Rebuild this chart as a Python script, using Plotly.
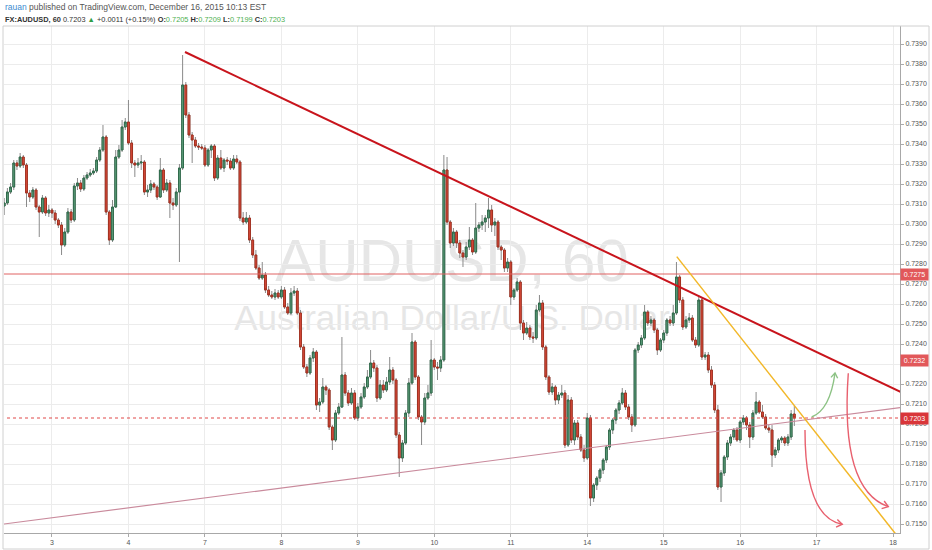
import plotly.graph_objects as go

# ---------------- data (hourly AUDUSD bars, Dec 3 - Dec 16 2015) ----------------
opens = [
    0.73090, 0.73105, 0.73160, 0.73185, 0.73305, 0.73290, 0.73335, 0.73295, 0.73155, 0.73135,
    0.73170, 0.73085, 0.73060, 0.73130, 0.73055, 0.73070, 0.73055, 0.73020, 0.72995, 0.72895,
    0.72960, 0.73060, 0.73020, 0.73190, 0.73205, 0.73175, 0.73230, 0.73245, 0.73255, 0.73265,
    0.73320, 0.73370, 0.73435, 0.73060, 0.72920, 0.73085, 0.73335, 0.73370, 0.73485, 0.73510,
    0.73405, 0.73305, 0.73295, 0.73305, 0.73310, 0.73160, 0.73170, 0.73200, 0.73185, 0.73135,
    0.73270, 0.73170, 0.73205, 0.73105, 0.73095, 0.73160, 0.73280, 0.73695, 0.73545, 0.73445,
    0.73420, 0.73390, 0.73385, 0.73380, 0.73295, 0.73370, 0.73390, 0.73230, 0.73330, 0.73280,
    0.73320, 0.73315, 0.73280, 0.73325, 0.73310, 0.73030, 0.73010, 0.73030, 0.72920, 0.72845,
    0.72780, 0.72730, 0.72745, 0.72670, 0.72645, 0.72635, 0.72655, 0.72635, 0.72670, 0.72585,
    0.72555, 0.72655, 0.72665, 0.72555, 0.72385, 0.72285, 0.72255, 0.72330, 0.72360, 0.72095,
    0.72110, 0.72185, 0.72170, 0.71985, 0.71920, 0.72055, 0.72085, 0.72245, 0.72155, 0.72105,
    0.72155, 0.72030, 0.72085, 0.72135, 0.72185, 0.72235, 0.72305, 0.72280, 0.72130, 0.72195,
    0.72170, 0.72210, 0.72270, 0.72220, 0.71945, 0.71830, 0.71905, 0.72055, 0.72205, 0.72410,
    0.72235, 0.72035, 0.72010, 0.72130, 0.72155, 0.72320, 0.72285, 0.72280, 0.72320, 0.73270,
    0.73010, 0.72905, 0.72960, 0.72905, 0.72855, 0.72835, 0.72885, 0.72920, 0.72860, 0.72980,
    0.72995, 0.73010, 0.73030, 0.73070, 0.72995, 0.73010, 0.72885, 0.72870, 0.72780, 0.72810,
    0.72635, 0.72670, 0.72710, 0.72505, 0.72455, 0.72480, 0.72435, 0.72430, 0.72570, 0.72605,
    0.72385, 0.72235, 0.72160, 0.72185, 0.72120, 0.72145, 0.72155, 0.71895, 0.72120, 0.71920,
    0.72005, 0.71935, 0.71870, 0.71830, 0.72030, 0.71630, 0.71695, 0.71730, 0.71770, 0.71820,
    0.71885, 0.71970, 0.72020, 0.72070, 0.72105, 0.72155, 0.72085, 0.72035, 0.71995, 0.72370,
    0.72395, 0.72430, 0.72560, 0.72505, 0.72520, 0.72470, 0.72370, 0.72420, 0.72455, 0.72520,
    0.72505, 0.72555, 0.72735, 0.72620, 0.72485, 0.72520, 0.72530, 0.72420, 0.72395, 0.72620,
    0.72335, 0.72345, 0.72270, 0.72195, 0.72070, 0.71685, 0.71755, 0.71835, 0.71905, 0.71935,
    0.71970, 0.71920, 0.72010, 0.72030, 0.71995, 0.71935, 0.72055, 0.72110, 0.72060, 0.72035,
    0.71980, 0.71970, 0.71845, 0.71870, 0.71920, 0.71930, 0.71905, 0.71935, 0.72050,
]
highs = [
    0.73130, 0.73180, 0.73205, 0.73320, 0.73320, 0.73355, 0.73345, 0.73305, 0.73170, 0.73185,
    0.73180, 0.73095, 0.73145, 0.73140, 0.73095, 0.73080, 0.73070, 0.73030, 0.73010, 0.72980,
    0.73080, 0.73075, 0.73205, 0.73230, 0.73220, 0.73245, 0.73260, 0.73275, 0.73280, 0.73335,
    0.73385, 0.73495, 0.73445, 0.73070, 0.73120, 0.73370, 0.73395, 0.73520, 0.73530, 0.73620,
    0.73420, 0.73320, 0.73330, 0.73345, 0.73320, 0.73195, 0.73220, 0.73210, 0.73195, 0.73330,
    0.73280, 0.73225, 0.73220, 0.73130, 0.73180, 0.73300, 0.73845, 0.73710, 0.73560, 0.73460,
    0.73435, 0.73405, 0.73400, 0.73395, 0.73380, 0.73400, 0.73400, 0.73345, 0.73370, 0.73330,
    0.73335, 0.73330, 0.73345, 0.73345, 0.73320, 0.73060, 0.73060, 0.73045, 0.72935, 0.72870,
    0.72795, 0.72810, 0.72760, 0.72690, 0.72665, 0.72675, 0.72670, 0.72690, 0.72685, 0.72605,
    0.72680, 0.72690, 0.72680, 0.72570, 0.72400, 0.72300, 0.72345, 0.72380, 0.72370, 0.72130,
    0.72230, 0.72195, 0.72180, 0.71995, 0.72070, 0.72105, 0.72435, 0.72260, 0.72170, 0.72180,
    0.72170, 0.72105, 0.72155, 0.72205, 0.72270, 0.72370, 0.72320, 0.72295, 0.72220, 0.72220,
    0.72235, 0.72335, 0.72285, 0.72230, 0.71960, 0.71920, 0.72070, 0.72230, 0.72455, 0.72420,
    0.72245, 0.72045, 0.72155, 0.72195, 0.72420, 0.72330, 0.72310, 0.72340, 0.73345, 0.73335,
    0.73020, 0.72980, 0.72970, 0.72920, 0.72870, 0.72910, 0.72985, 0.72930, 0.73105, 0.73010,
    0.73045, 0.73045, 0.73130, 0.73095, 0.73030, 0.73020, 0.72895, 0.72880, 0.72830, 0.72820,
    0.72680, 0.72730, 0.72720, 0.72520, 0.72510, 0.72495, 0.72460, 0.72595, 0.72645, 0.72620,
    0.72395, 0.72245, 0.72205, 0.72195, 0.72160, 0.72195, 0.72170, 0.72145, 0.72135, 0.72020,
    0.72020, 0.71950, 0.71895, 0.72055, 0.72045, 0.71705, 0.71740, 0.71780, 0.71830, 0.71895,
    0.71980, 0.72030, 0.72080, 0.72120, 0.72180, 0.72170, 0.72100, 0.72050, 0.72380, 0.72410,
    0.72445, 0.72595, 0.72570, 0.72540, 0.72530, 0.72480, 0.72430, 0.72470, 0.72530, 0.72540,
    0.72595, 0.72810, 0.72745, 0.72635, 0.72540, 0.72555, 0.72545, 0.72435, 0.72645, 0.72635,
    0.72360, 0.72360, 0.72290, 0.72210, 0.72095, 0.71770, 0.71845, 0.71920, 0.71950, 0.71980,
    0.71985, 0.72020, 0.72045, 0.72040, 0.72010, 0.72070, 0.72160, 0.72120, 0.72095, 0.72050,
    0.71995, 0.71995, 0.71885, 0.71930, 0.71940, 0.71940, 0.71950, 0.72070, 0.72090,
]
lows = [
    0.73045, 0.73095, 0.73150, 0.73170, 0.73270, 0.73280, 0.73280, 0.73085, 0.73110, 0.73125,
    0.73070, 0.72935, 0.73050, 0.73040, 0.73035, 0.73030, 0.73000, 0.72980, 0.72845, 0.72885,
    0.72950, 0.73005, 0.73010, 0.73170, 0.73160, 0.73165, 0.73220, 0.73235, 0.73245, 0.73255,
    0.73310, 0.73360, 0.73045, 0.72895, 0.72910, 0.73080, 0.73325, 0.73360, 0.73470, 0.73395,
    0.73280, 0.73235, 0.73280, 0.73270, 0.73145, 0.73135, 0.73155, 0.73170, 0.73120, 0.73130,
    0.73155, 0.73160, 0.73030, 0.73070, 0.73085, 0.72810, 0.73270, 0.73530, 0.73430, 0.73305,
    0.73380, 0.73370, 0.73370, 0.73285, 0.73285, 0.73330, 0.73215, 0.73220, 0.73270, 0.73260,
    0.73295, 0.73270, 0.73270, 0.73300, 0.73015, 0.72995, 0.73000, 0.72905, 0.72830, 0.72770,
    0.72720, 0.72720, 0.72655, 0.72635, 0.72625, 0.72620, 0.72625, 0.72625, 0.72575, 0.72545,
    0.72545, 0.72640, 0.72545, 0.72370, 0.72275, 0.72235, 0.72245, 0.72310, 0.72070, 0.72060,
    0.72100, 0.72145, 0.71970, 0.71870, 0.71910, 0.72045, 0.72080, 0.72140, 0.72090, 0.72095,
    0.72020, 0.72015, 0.72075, 0.72125, 0.72175, 0.72225, 0.72260, 0.72110, 0.72120, 0.72155,
    0.72160, 0.72195, 0.72200, 0.71930, 0.71735, 0.71810, 0.71895, 0.72035, 0.72195, 0.72220,
    0.72020, 0.71895, 0.71995, 0.72120, 0.72140, 0.72270, 0.72220, 0.72260, 0.72310, 0.72995,
    0.72880, 0.72890, 0.72880, 0.72830, 0.72785, 0.72820, 0.72870, 0.72845, 0.72850, 0.72960,
    0.72970, 0.72960, 0.72980, 0.72960, 0.72940, 0.72870, 0.72820, 0.72760, 0.72760, 0.72595,
    0.72620, 0.72660, 0.72470, 0.72420, 0.72445, 0.72420, 0.72405, 0.72420, 0.72560, 0.72370,
    0.72220, 0.72145, 0.72145, 0.72095, 0.72100, 0.72130, 0.71880, 0.71885, 0.71905, 0.71895,
    0.71920, 0.71860, 0.71810, 0.71820, 0.71590, 0.71610, 0.71670, 0.71710, 0.71750, 0.71805,
    0.71870, 0.71950, 0.72000, 0.72050, 0.72095, 0.72070, 0.72020, 0.71960, 0.71985, 0.72355,
    0.72380, 0.72420, 0.72490, 0.72490, 0.72455, 0.72345, 0.72360, 0.72405, 0.72440, 0.72490,
    0.72490, 0.72545, 0.72605, 0.72470, 0.72475, 0.72505, 0.72410, 0.72380, 0.72385, 0.72320,
    0.72320, 0.72255, 0.72180, 0.72055, 0.71670, 0.71610, 0.71740, 0.71820, 0.71890, 0.71920,
    0.71910, 0.71905, 0.71995, 0.71970, 0.71880, 0.71920, 0.72045, 0.72050, 0.72025, 0.71970,
    0.71955, 0.71785, 0.71830, 0.71855, 0.71905, 0.71890, 0.71890, 0.71920, 0.71990,
]
closes = [
    0.73105, 0.73160, 0.73185, 0.73305, 0.73290, 0.73335, 0.73295, 0.73155, 0.73135, 0.73170,
    0.73085, 0.73060, 0.73130, 0.73055, 0.73070, 0.73055, 0.73020, 0.72995, 0.72895, 0.72960,
    0.73060, 0.73020, 0.73190, 0.73205, 0.73175, 0.73230, 0.73245, 0.73255, 0.73265, 0.73320,
    0.73370, 0.73435, 0.73060, 0.72920, 0.73085, 0.73335, 0.73370, 0.73485, 0.73510, 0.73405,
    0.73305, 0.73295, 0.73305, 0.73310, 0.73160, 0.73170, 0.73200, 0.73185, 0.73135, 0.73270,
    0.73170, 0.73205, 0.73105, 0.73095, 0.73160, 0.73280, 0.73695, 0.73545, 0.73445, 0.73420,
    0.73390, 0.73385, 0.73380, 0.73295, 0.73370, 0.73390, 0.73230, 0.73330, 0.73280, 0.73320,
    0.73315, 0.73280, 0.73325, 0.73310, 0.73030, 0.73010, 0.73030, 0.72920, 0.72845, 0.72780,
    0.72730, 0.72745, 0.72670, 0.72645, 0.72635, 0.72655, 0.72635, 0.72670, 0.72585, 0.72555,
    0.72655, 0.72665, 0.72555, 0.72385, 0.72285, 0.72255, 0.72330, 0.72360, 0.72095, 0.72110,
    0.72185, 0.72170, 0.71985, 0.71920, 0.72055, 0.72085, 0.72245, 0.72155, 0.72105, 0.72155,
    0.72030, 0.72085, 0.72135, 0.72185, 0.72235, 0.72305, 0.72280, 0.72130, 0.72195, 0.72170,
    0.72210, 0.72270, 0.72220, 0.71945, 0.71830, 0.71905, 0.72055, 0.72205, 0.72410, 0.72235,
    0.72035, 0.72010, 0.72130, 0.72155, 0.72320, 0.72285, 0.72280, 0.72320, 0.73270, 0.73010,
    0.72905, 0.72960, 0.72905, 0.72855, 0.72835, 0.72885, 0.72920, 0.72860, 0.72980, 0.72995,
    0.73010, 0.73030, 0.73070, 0.72995, 0.73010, 0.72885, 0.72870, 0.72780, 0.72810, 0.72635,
    0.72670, 0.72710, 0.72505, 0.72455, 0.72480, 0.72435, 0.72430, 0.72570, 0.72605, 0.72385,
    0.72235, 0.72160, 0.72185, 0.72120, 0.72145, 0.72155, 0.71895, 0.72120, 0.71920, 0.72005,
    0.71935, 0.71870, 0.71830, 0.72030, 0.71630, 0.71695, 0.71730, 0.71770, 0.71820, 0.71885,
    0.71970, 0.72020, 0.72070, 0.72105, 0.72155, 0.72085, 0.72035, 0.71995, 0.72370, 0.72395,
    0.72430, 0.72560, 0.72505, 0.72520, 0.72470, 0.72370, 0.72420, 0.72455, 0.72520, 0.72505,
    0.72555, 0.72735, 0.72620, 0.72485, 0.72520, 0.72530, 0.72420, 0.72395, 0.72620, 0.72335,
    0.72345, 0.72270, 0.72195, 0.72070, 0.71685, 0.71755, 0.71835, 0.71905, 0.71935, 0.71970,
    0.71920, 0.72010, 0.72030, 0.71995, 0.71935, 0.72055, 0.72110, 0.72060, 0.72035, 0.71980,
    0.71970, 0.71845, 0.71870, 0.71920, 0.71930, 0.71905, 0.71935, 0.72050, 0.72030,
]
bar_index = list(range(len(closes)))

day_tick_index = [15, 39, 63, 87, 111, 135, 159, 183, 207, 231, 255, 279]
day_tick_text = ["3", "4", "7", "8", "9", "10", "11", "14", "15", "16", "17", "18"]

# drawings (bar index, price)
resistance_x = [56.75, 284.0]
resistance_y = [0.73860, 0.72140]
support_x = [-1.0, 284.0]
support_y = [0.71498, 0.72088]
fan_x = [211.1, 282.0]
fan_y = [0.72837, 0.71406]
level_price = 0.7275
last_price = 0.7203
axis_labels = [0.7275, 0.7232, 0.7203]
axis_label_colors = ["#e2585a", "#e2585a", "#d9363a"]

green_curve = [(253.45, 0.72035), (259.2, 0.72070), (260.77, 0.72255)]
green_head = [(259.5, 0.72233), (260.77, 0.72255), (261.6, 0.72229)]
red_curve_1 = [(251.35, 0.71970), (251.35, 0.71530), (263.05, 0.71499)]
red_head_1 = [(261.5, 0.71523), (263.05, 0.71499), (261.1, 0.71484)]
red_curve_2 = [(264.94, 0.72254), (262.34, 0.71670), (277.5, 0.71587)]
red_head_2 = [(276.2, 0.71615), (277.5, 0.71587), (275.4, 0.71577)]

FONT = "Liberation Sans, Arial, sans-serif"

fig = go.Figure()

# wicks (gray) + bodies
fig.add_trace(go.Candlestick(
    x=bar_index, open=opens, high=highs, low=lows, close=closes,
    increasing=dict(line=dict(color="#8a8a8a", width=1), fillcolor="#5e9e7b"),
    decreasing=dict(line=dict(color="#8a8a8a", width=1), fillcolor="#d9493c"),
    whiskerwidth=0, hoverinfo="skip", showlegend=False))
body_top = [max(o, c) for o, c in zip(opens, closes)]
body_bot = [min(o, c) for o, c in zip(opens, closes)]
fig.add_trace(go.Candlestick(
    x=bar_index, open=opens, high=body_top, low=body_bot, close=closes,
    increasing=dict(line=dict(color="#2f6a4b", width=1), fillcolor="#62a37f"),
    decreasing=dict(line=dict(color="#a3301f", width=1), fillcolor="#de4d3e"),
    whiskerwidth=0, hoverinfo="skip", showlegend=False))

# horizontal levels
fig.add_trace(go.Scatter(x=support_x, y=[level_price, level_price], mode="lines",
                         line=dict(color="#e06262", width=1), hoverinfo="skip", showlegend=False))
fig.add_trace(go.Scatter(x=support_x, y=[last_price, last_price], mode="lines",
                         line=dict(color="#e04848", width=1, dash="dot"), hoverinfo="skip", showlegend=False))
# trend lines
fig.add_trace(go.Scatter(x=support_x, y=support_y, mode="lines",
                         line=dict(color="#c98a9c", width=1.2), hoverinfo="skip", showlegend=False))
fig.add_trace(go.Scatter(x=resistance_x, y=resistance_y, mode="lines",
                         line=dict(color="#c8141c", width=2), hoverinfo="skip", showlegend=False))
fig.add_trace(go.Scatter(x=fan_x, y=fan_y, mode="lines",
                         line=dict(color="#f2b728", width=1.5), hoverinfo="skip", showlegend=False))


def qpath(pts):
    (a, b), (c, d), (e, f) = pts
    return f"M {a},{b} Q {c},{d} {e},{f}"


def lpath(pts):
    (a, b), (c, d), (e, f) = pts
    return f"M {a},{b} L {c},{d} L {e},{f}"


for curve, head, col in [(green_curve, green_head, "#8cc284"),
                         (red_curve_1, red_head_1, "#e8606e"),
                         (red_curve_2, red_head_2, "#e8606e")]:
    fig.add_shape(type="path", xref="x", yref="y", path=qpath(curve),
                  line=dict(color=col, width=1.4), layer="above")
    fig.add_shape(type="path", xref="x", yref="y", path=lpath(head),
                  line=dict(color=col, width=1.4), layer="above")

# watermark (below the data)
fig.add_shape(type="rect", xref="paper", yref="paper", x0=0.1, x1=0.9, y0=0.502, y1=0.597,
              line=dict(width=0), fillcolor="rgba(0,0,0,0)", layer="below",
              label=dict(text="AUDUSD, 60", textposition="middle center",
                         font=dict(family=FONT, size=60, color="#e6e6e6")))
fig.add_shape(type="rect", xref="paper", yref="paper", x0=0.1, x1=0.9, y0=0.40, y1=0.46,
              line=dict(width=0), fillcolor="rgba(0,0,0,0)", layer="below",
              label=dict(text="Australian Dollar/U.S. Dollar", textposition="middle center",
                         font=dict(family=FONT, size=35, color="#e6e6e6")))

# outer frame
fig.add_shape(type="rect", xref="paper", yref="paper", x0=-0.0011, x1=1.0324, y0=-0.0316, y1=1.0,
              line=dict(color="#d0d0d0", width=1), fillcolor="rgba(0,0,0,0)", layer="above")

# price labels on the axis
for p, col in zip(axis_labels, axis_label_colors):
    fig.add_annotation(xref="paper", x=1.0, xanchor="left", yref="y", y=p, yanchor="middle",
                       text=f"{p:.4f}", showarrow=False, bgcolor=col, borderpad=1,
                       width=25, height=9, font=dict(family=FONT, size=7, color="white"))

# header
fig.add_annotation(xref="paper", yref="paper", x=-0.001, y=1.0365, xanchor="left", yanchor="middle",
                   showarrow=False,
                   text="<span style='color:#3b8bd0'>rauan</span> published on TradingView.com, December 16, 2015 10:13 EST",
                   font=dict(family=FONT, size=8.5, color="#555555"))
fig.add_annotation(xref="paper", yref="paper", x=-0.001, y=1.0138, xanchor="left", yanchor="middle",
                   showarrow=False,
                   text=("<b>FX:AUDUSD, 60</b> 0.7203 <span style='color:#2f9e44'>▲</span> +0.0011 (+0.15%) "
                         "<b>O:</b><span style='color:#4caf50'>0.7205</span> "
                         "<b>H:</b><span style='color:#4caf50'>0.7209</span> "
                         "<b>L:</b><span style='color:#4caf50'>0.7199</span> "
                         "<b>C:</b><span style='color:#4caf50'>0.7203</span>"),
                   font=dict(family=FONT, size=7.4, color="#333333"))

fig.update_layout(
    width=932, height=550,
    margin=dict(l=4, r=32, t=26, b=17),
    paper_bgcolor="white", plot_bgcolor="white",
    showlegend=False,
    boxgap=0.2,
    font=dict(family=FONT, size=7, color="#555555"),
    xaxis=dict(range=[-0.063, 281.17], tickmode="array", tickvals=day_tick_index, ticktext=day_tick_text,
               showgrid=True, gridcolor="#ececec", gridwidth=1, zeroline=False,
               ticks="outside", ticklen=3, tickcolor="#aaaaaa", showline=True, linecolor="#a8a8a8",
               rangeslider=dict(visible=False), tickfont=dict(family=FONT, size=7, color="#555555")),
    yaxis=dict(side="right", range=[0.71455, 0.73990], tick0=0.715, dtick=0.001, tickformat=".4f",
               showgrid=True, gridcolor="#ececec", zeroline=False, ticks="outside", ticklen=3,
               tickcolor="#aaaaaa", showline=True, linecolor="#a8a8a8",
               tickfont=dict(family=FONT, size=7, color="#555555")),
)

fig.write_html("out.html",
               config={"displayModeBar": False},
               post_script="document.body.style.margin='0px';document.body.style.padding='0px';")
